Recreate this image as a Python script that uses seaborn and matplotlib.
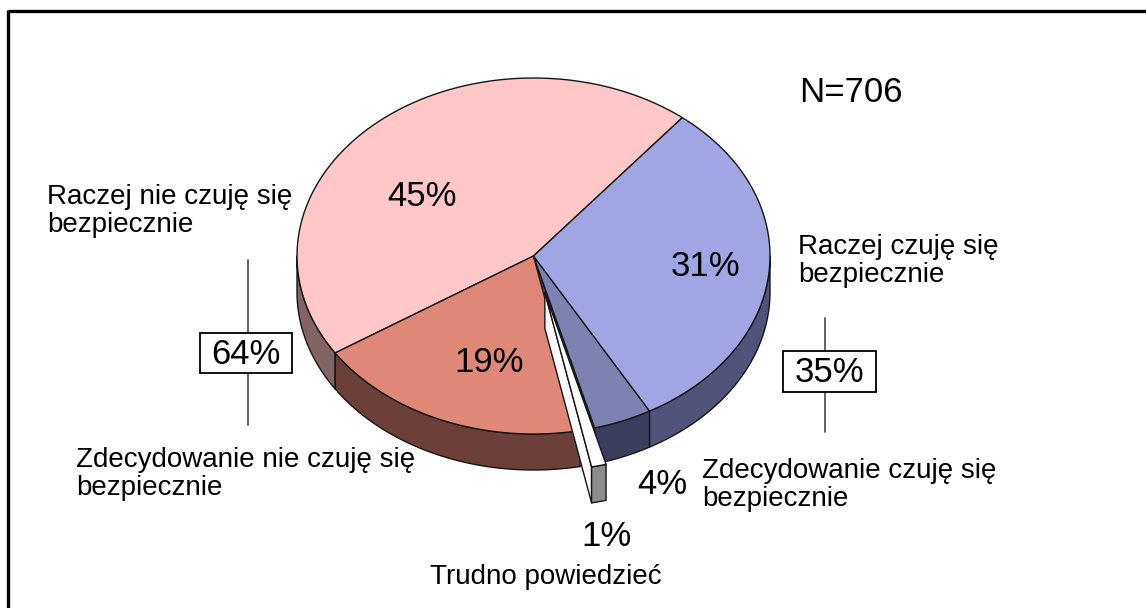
import numpy as np
import matplotlib
matplotlib.use("Agg")
import matplotlib.pyplot as plt
from matplotlib.patches import Polygon, Rectangle
import seaborn as sns

# ---------------- data ----------------
categories = [
    "Raczej nie czuję się\nbezpiecznie",
    "Zdecydowanie nie czuję się\nbezpiecznie",
    "Trudno powiedzieć",
    "Zdecydowanie czuję się\nbezpiecznie",
    "Raczej czuję się\nbezpiecznie",
]
values = [45, 19, 1, 4, 31]
group_values = [64, 35]
sample_size = 706

# ---------------- style ----------------
top_colors = ["#FFC7C7", "#DF8878", "#FFFFFF", "#7E82B3", "#A0A6E4"]
side_colors = ["#836464", "#6D3F39", "#8C8C8C", "#3A3D5B", "#50547A"]
radial_colors = ["#836464", "#6D3F39", "#FAFAFA", "#3A3D5B", "#50547A"]
explode = [0, 0, 0.21, 0, 0]

sns.set_theme(style="white")
plt.rcParams['font.family'] = ['Liberation Sans', 'DejaVu Sans']

fig = plt.figure(figsize=(11.46, 6.08), dpi=100)
ax = fig.add_axes([0, 0, 1, 1])
ax.set_xlim(0, 1146)
ax.set_ylim(608, 0)
ax.axis('off')

cx, cy, rx, ry, depth = 533.5, 256.0, 236.5, 178.0, 36.0
start_angle = 51.0
EC = "#151515"
LW = 1.0


def pt(theta, ox, oy, dz=0.0):
    t = np.radians(theta)
    return (cx + ox + rx * np.cos(t), cy + oy - ry * np.sin(t) + dz)


def arc(t1, t2, ox, oy, dz=0.0, n=80):
    ts = np.linspace(t1, t2, n)
    return [pt(t, ox, oy, dz) for t in ts]


# compute slice angles
total = float(sum(values))
slices = []
acc = start_angle
for i, v in enumerate(values):
    a1 = acc
    a2 = acc + 360.0 * v / total
    acc = a2
    mid = np.radians((a1 + a2) / 2)
    ox = explode[i] * rx * np.cos(mid)
    oy = -explode[i] * ry * np.sin(mid)
    slices.append((a1, a2, ox, oy))

n = len(values)


def draw_slice_walls(i):
    a1, a2, ox, oy = slices[i]
    prev_exp = explode[(i - 1) % n] > 0
    next_exp = explode[(i + 1) % n] > 0
    own_exp = explode[i] > 0
    c0 = (cx + ox, cy + oy)
    # radial walls
    for edge, normal, cond in ((a1, a1 - 90, own_exp or prev_exp),
                               (a2, a2 + 90, own_exp or next_exp)):
        if cond and np.sin(np.radians(normal)) < 0:
            p_out = pt(edge, ox, oy)
            poly = [c0, p_out, (p_out[0], p_out[1] + depth),
                    (c0[0], c0[1] + depth)]
            ax.add_patch(Polygon(poly, closed=True, fc=radial_colors[i],
                                 ec=EC, lw=LW, joinstyle='round'))
    # outer wall (front half only)
    for k in range(-1, 2):
        lo, hi = 180 + 360 * k, 360 + 360 * k
        t1, t2 = max(a1, lo), min(a2, hi)
        if t2 > t1:
            top = arc(t1, t2, ox, oy)
            bot = arc(t2, t1, ox, oy, depth)
            ax.add_patch(Polygon(top + bot, closed=True, fc=side_colors[i],
                                 ec=EC, lw=LW, joinstyle='round'))


def draw_slice_top(i):
    a1, a2, ox, oy = slices[i]
    poly = [(cx + ox, cy + oy)] + arc(a1, a2, ox, oy)
    ax.add_patch(Polygon(poly, closed=True, fc=top_colors[i], ec=EC, lw=LW,
                         joinstyle='round'))


main = [i for i in range(n) if explode[i] == 0]
exploded = [i for i in range(n) if explode[i] > 0]
for i in main:
    draw_slice_walls(i)
for i in main:
    draw_slice_top(i)
for i in exploded:
    draw_slice_walls(i)
    draw_slice_top(i)

# ---------------- labels ----------------
pct_pos = [(422, 197), (489, 363), (606, 537), (662, 485), (705, 266)]
for v, (x, y) in zip(values, pct_pos):
    ax.text(x, y, f"{v}%", fontsize=25, ha='center', va='center', color='black')

cat_pos = [(47, 211, 'left'), (76, 474, 'left'), (546, 577, 'center'),
           (702, 485, 'left'), (798, 261, 'left')]
for lab, (x, y, ha) in zip(categories, cat_pos):
    ax.text(x, y, lab, fontsize=20, ha=ha, va='center', color='black',
            linespacing=1.12, multialignment='left')

# group summary boxes with vertical brackets
ax.plot([248, 248], [260, 425], color="#555555", lw=1.3, zorder=1)
ax.plot([825, 825], [318, 432], color="#555555", lw=1.3, zorder=1)
group_pos = [(246, 353, 92, 40), (829, 371, 93, 41)]
for g, (x, y, w, h) in zip(group_values, group_pos):
    ax.add_patch(Rectangle((x - w / 2, y - h / 2), w, h, fc='white',
                           ec='black', lw=1.3, zorder=2))
    ax.text(x, y + 1, f"{g}%", fontsize=25, ha='center', va='center',
            color='black', zorder=3)

ax.text(851, 92, f"N={sample_size}", fontsize=25, ha='center', va='center',
        color='black')

# frame (top and left edges visible)
ax.plot([8, 1146], [10.5, 10.5], color='black', lw=2.4, clip_on=False,
        solid_capstyle='butt')
ax.plot([8, 8], [9.5, 608], color='black', lw=2.4, clip_on=False,
        solid_capstyle='butt')

fig.savefig("out.png", dpi=100, facecolor='white')
